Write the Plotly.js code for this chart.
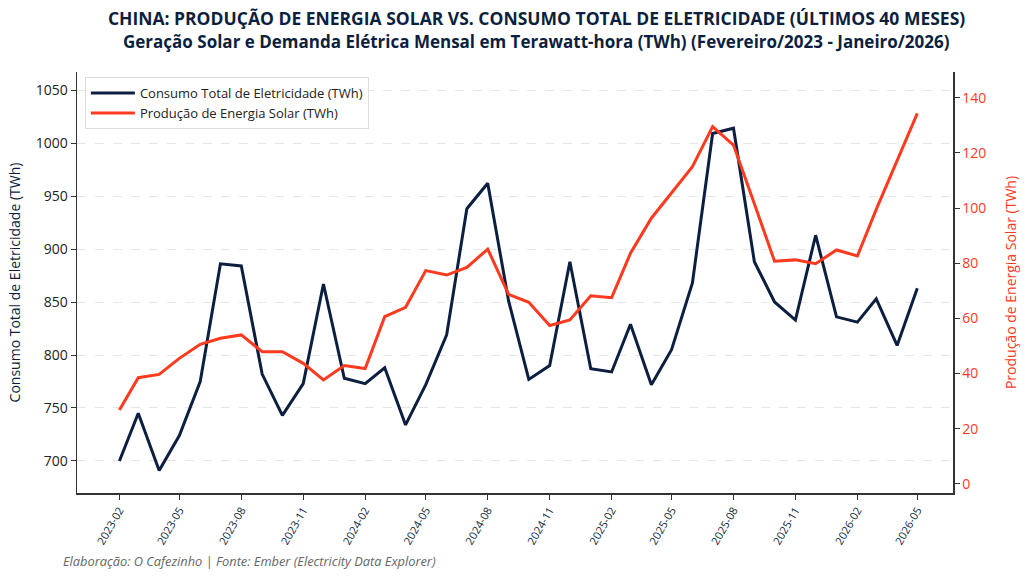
<!DOCTYPE html>
<html>
<head>
<meta charset="utf-8">
<script src="https://cdn.plot.ly/plotly-3.0.1.min.js"></script>
<style>
  html, body { margin: 0; padding: 0; background: #ffffff; }
  #chart { width: 1024px; height: 576px; }
</style>
</head>
<body>
<div id="chart"></div>
<script>
// Monthly series, Feb/2023 .. May/2026
const months = [
  '2023-02','2023-03','2023-04','2023-05','2023-06','2023-07','2023-08','2023-09','2023-10','2023-11','2023-12',
  '2024-01','2024-02','2024-03','2024-04','2024-05','2024-06','2024-07','2024-08','2024-09','2024-10','2024-11','2024-12',
  '2025-01','2025-02','2025-03','2025-04','2025-05','2025-06','2025-07','2025-08','2025-09','2025-10','2025-11','2025-12',
  '2026-01','2026-02','2026-03','2026-04','2026-05'
];

// Total electricity consumption (TWh)
const consumo = [
  700, 745, 691, 724, 775, 886, 884, 782, 743, 773, 867,
  778, 773, 788, 734, 772, 819, 938, 962, 851, 777, 790, 888,
  787, 784, 829, 772, 805, 868, 1009, 1014, 888, 850, 833, 913,
  836, 831, 853, 809, 863
];

// Solar generation (TWh)
const solar = [
  26.8, 38.5, 39.7, 45.5, 50.6, 52.8, 54.0, 47.9, 47.9, 43.7, 37.7,
  42.9, 41.8, 60.6, 64.0, 77.3, 75.7, 78.5, 85.1, 68.7, 65.8, 57.4, 59.4,
  68.2, 67.5, 83.6, 96.3, 105.3, 115.0, 129.5, 122.8, 101.5, 80.7, 81.2, 79.8,
  84.8, 82.6, 99.5, 117.0, 134.3
];

const NAVY = '#0c1f40';
const RED = '#ff3a1f';
const FONT = 'Open Sans, Noto Sans, sans-serif';

const dates = months.map(m => m + '-01');

const traces = [
  {
    x: dates, y: consumo, type: 'scatter', mode: 'lines',
    name: 'Consumo Total de Eletricidade (TWh)',
    line: { color: NAVY, width: 3 },
    yaxis: 'y'
  },
  {
    x: dates, y: solar, type: 'scatter', mode: 'lines',
    name: 'Produção de Energia Solar (TWh)',
    line: { color: RED, width: 3 },
    yaxis: 'y2'
  }
];

const layout = {
  width: 1024, height: 576,
  paper_bgcolor: '#ffffff', plot_bgcolor: '#ffffff',
  margin: { l: 77, r: 71, t: 72, b: 83 },
  font: { family: FONT, color: '#222' },
  showlegend: true,
  title: {
    text: '<b>CHINA: PRODUÇÃO DE ENERGIA SOLAR VS. CONSUMO TOTAL DE ELETRICIDADE (ÚLTIMOS 40 MESES)</b>',
    font: { family: FONT, size: 17.5, color: NAVY },
    x: 0.524, xref: 'container', xanchor: 'center',
    y: 0.977, yref: 'container', yanchor: 'top'
  },
  xaxis: {
    type: 'date',
    range: ['2022-11-30', '2026-06-23'],
    tick0: '2023-02-01', dtick: 'M3', tickformat: '%Y-%m',
    tickangle: -60,
    ticks: 'outside', ticklen: 5, tickcolor: '#333',
    tickfont: { size: 11, color: NAVY },
    showgrid: false, zeroline: false,
    showline: true, linecolor: '#333', linewidth: 1.5
  },
  yaxis: {
    range: [669.8, 1067],
    tick0: 700, dtick: 50,
    ticks: 'outside', ticklen: 5, tickcolor: '#333',
    tickfont: { size: 14, color: '#222' },
    showline: true, linecolor: '#333', linewidth: 1.5,
    showgrid: true, gridcolor: '#e6e6e6', griddash: 'dash', gridwidth: 1,
    zeroline: false,
    title: { text: 'Consumo Total de Eletricidade (TWh)', font: { size: 14, color: NAVY }, standoff: 12 }
  },
  yaxis2: {
    overlaying: 'y', side: 'right',
    range: [-3.3, 149.3],
    tick0: 0, dtick: 20,
    ticks: 'outside', ticklen: 5, tickcolor: '#333',
    tickfont: { size: 14, color: RED },
    showline: true, linecolor: '#333', linewidth: 1.5,
    showgrid: false, zeroline: false,
    title: { text: 'Produção de Energia Solar (TWh)', font: { size: 14, color: RED }, standoff: 21 }
  },
  legend: {
    x: 0.009, y: 0.988, xanchor: 'left', yanchor: 'top',
    bgcolor: 'rgba(255,255,255,0.95)', bordercolor: '#dddddd', borderwidth: 1,
    font: { size: 13, color: '#222' },
    itemwidth: 44
  },
  annotations: [
    {
      text: '<b>Geração Solar e Demanda Elétrica Mensal em Terawatt-hora (TWh) (Fevereiro/2023 - Janeiro/2026)</b>',
      xref: 'paper', yref: 'paper', x: 0.525, y: 1.0713,
      xanchor: 'center', yanchor: 'middle', showarrow: false,
      font: { family: FONT, size: 17, color: NAVY }
    },
    {
      text: '<i>Elaboração: O Cafezinho | Fonte: Ember (Electricity Data Explorer)</i>',
      xref: 'paper', yref: 'paper', x: -0.018, y: -0.1615,
      xanchor: 'left', yanchor: 'middle', showarrow: false,
      font: { size: 12.8, color: '#666' }
    }
  ]
};

Plotly.newPlot('chart', traces, layout, { displayModeBar: false, staticPlot: true });
</script>
</body>
</html>
